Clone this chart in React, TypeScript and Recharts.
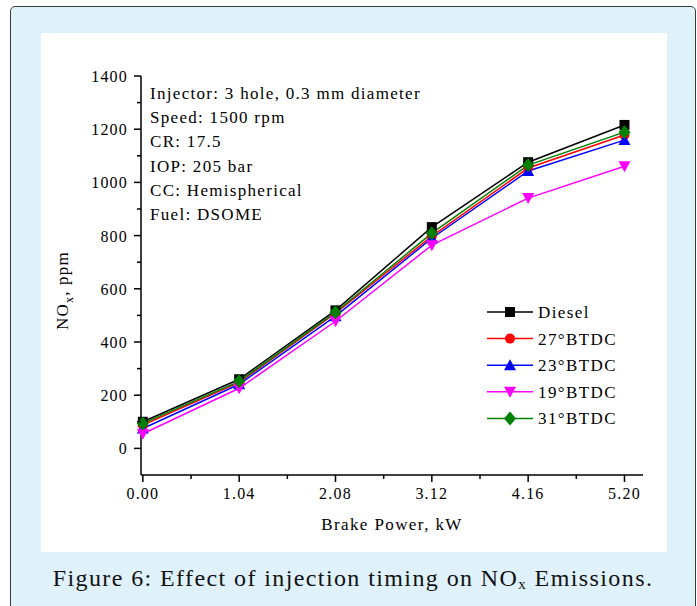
import { LineChart, Line, XAxis, YAxis, Legend } from "recharts";

const brakePower = [0, 1.04, 2.08, 3.12, 4.16, 5.2];
const diesel = [100, 260, 519, 832, 1076, 1216];
const btdc27 = [88, 248, 508, 798, 1054, 1178];
const btdc23 = [75, 241, 497, 790, 1043, 1159];
const btdc19 = [55, 226, 478, 764, 941, 1061];
const btdc31 = [94, 252, 512, 809, 1065, 1189];

const xTicks = [0, 0.52, 1.04, 1.56, 2.08, 2.6, 3.12, 3.64, 4.16, 4.68, 5.2];
const yTicks = [0, 100, 200, 300, 400, 500, 600, 700, 800, 900, 1000, 1100, 1200, 1300, 1400];

const notes = [
  "Injector: 3 hole, 0.3 mm diameter",
  "Speed: 1500 rpm",
  "CR: 17.5",
  "IOP: 205 bar",
  "CC: Hemispherical",
  "Fuel: DSOME",
];

type Shape = "square" | "circle" | "up" | "down" | "diamond";

const series: { key: string; name: string; color: string; shape: Shape }[] = [
  { key: "diesel", name: "Diesel", color: "#000000", shape: "square" },
  { key: "b27", name: "27°BTDC", color: "#ff0000", shape: "circle" },
  { key: "b23", name: "23°BTDC", color: "#0000ff", shape: "up" },
  { key: "b19", name: "19°BTDC", color: "#ff00ff", shape: "down" },
  { key: "b31", name: "31°BTDC", color: "#008000", shape: "diamond" },
];

const data = brakePower.map((bp, i) => ({
  bp,
  diesel: diesel[i],
  b27: btdc27[i],
  b23: btdc23[i],
  b19: btdc19[i],
  b31: btdc31[i],
}));

const FONT = "'Liberation Serif', 'Times New Roman', serif";

function marker(shape: Shape, cx: number, cy: number, color: string, key?: string) {
  if (shape === "square")
    return <rect key={key} x={cx - 5} y={cy - 5} width={10} height={10} fill={color} />;
  if (shape === "circle") return <circle key={key} cx={cx} cy={cy} r={5} fill={color} />;
  if (shape === "up")
    return <polygon key={key} points={`${cx},${cy - 6} ${cx - 6},${cy + 5} ${cx + 6},${cy + 5}`} fill={color} />;
  if (shape === "down")
    return <polygon key={key} points={`${cx},${cy + 6} ${cx - 6},${cy - 5} ${cx + 6},${cy - 5}`} fill={color} />;
  return <polygon key={key} points={`${cx},${cy - 7} ${cx + 6},${cy} ${cx},${cy + 7} ${cx - 6},${cy}`} fill={color} />;
}

function XTick(props: any) {
  const { x, y, payload } = props;
  const major = Math.round(payload.value / 0.52) % 2 === 0;
  return (
    <g>
      <line x1={x} x2={x} y1={y} y2={y + (major ? 7 : 4)} stroke="#000" strokeWidth={1.5} />
      {major && (
        <text x={x} y={y + 24} textAnchor="middle" fontFamily={FONT} fontSize={16} letterSpacing={1.2} fill="#000">
          {payload.value.toFixed(2)}
        </text>
      )}
    </g>
  );
}

function YTick(props: any) {
  const { x, y, payload } = props;
  const major = payload.value % 200 === 0;
  return (
    <g>
      <line x1={x - (major ? 7 : 4)} x2={x} y1={y} y2={y} stroke="#000" strokeWidth={1.5} />
      {major && (
        <text x={x - 13} y={y + 6} textAnchor="end" fontFamily={FONT} fontSize={16} letterSpacing={1.2} fill="#000">
          {payload.value}
        </text>
      )}
    </g>
  );
}

function YLabel(props: any) {
  const { viewBox } = props;
  const cx = viewBox.x + 27;
  const cy = viewBox.y + viewBox.height / 2 + 15;
  return (
    <text
      transform={`translate(${cx},${cy}) rotate(-90)`}
      textAnchor="middle"
      fontFamily={FONT}
      fontSize={17}
      letterSpacing={1.2}
      fill="#000"
    >
      NO<tspan fontSize={12} dy={5}>x</tspan>
      <tspan dy={-5}>, ppm</tspan>
    </text>
  );
}

function XLabel(props: any) {
  const { viewBox } = props;
  return (
    <text
      x={viewBox.x + viewBox.width / 2}
      y={viewBox.y + 55}
      textAnchor="middle"
      fontFamily={FONT}
      fontSize={17}
      letterSpacing={1.4}
      fill="#000"
    >
      Brake Power, kW
    </text>
  );
}

function LegendBox() {
  return (
    <svg width={170} height={140} style={{ overflow: "visible" }}>
      {series.map((s, i) => {
        const y = 12 + i * 26.6;
        return (
          <g key={s.key}>
            <line x1={0} x2={46} y1={y} y2={y} stroke={s.color} strokeWidth={1.5} />
            {marker(s.shape, 23, y, s.color)}
            <text x={51} y={y + 6} fontFamily={FONT} fontSize={17} letterSpacing={1.4} fill="#000">
              {s.name}
            </text>
          </g>
        );
      })}
    </svg>
  );
}

export default function App() {
  return (
    <div style={{ position: "absolute", left: 0, top: 0, width: 697, height: 606, overflow: "hidden" }}>
      <div
        style={{
          position: "absolute",
          left: 10,
          top: 6,
          width: 686,
          height: 660,
          border: "1px solid #3a3a3a",
          borderRadius: 5,
          background: "#dff1fb",
          boxSizing: "border-box",
        }}
      />
      <div style={{ position: "absolute", left: 41, top: 33, width: 626, height: 519, background: "#fff" }}>
        <LineChart width={626} height={519} data={data} margin={{ top: 43, right: 24, bottom: 47, left: 0 }}>
          <XAxis
            type="number"
            dataKey="bp"
            domain={[-0.02, 5.4]}
            ticks={xTicks}
            tick={<XTick />}
            tickSize={0}
            tickMargin={0}
            tickLine={false}
            height={30}
            interval={0}
            axisLine={{ stroke: "#000", strokeWidth: 1.5 }}
            label={<XLabel />}
          />
          <YAxis
            type="number"
            domain={[-100, 1400]}
            ticks={yTicks}
            tick={<YTick />}
            tickSize={0}
            tickMargin={0}
            tickLine={false}
            width={100}
            interval={0}
            axisLine={{ stroke: "#000", strokeWidth: 1.5 }}
            label={<YLabel />}
          />
          <Legend
            layout="vertical"
            align="center"
            verticalAlign="middle"
            content={() => <LegendBox />}
            wrapperStyle={{ position: "absolute", left: 446, top: 267, width: 170, height: 140 }}
          />
          {series.map((s) => (
            <Line
              key={s.key}
              type="linear"
              dataKey={s.key}
              name={s.name}
              stroke={s.color}
              strokeWidth={1.5}
              isAnimationActive={false}
              dot={(p: any) => marker(s.shape, p.cx, p.cy, s.color, `${s.key}-${p.index}`)}
              activeDot={false}
            />
          ))}
        </LineChart>
        <div
          style={{
            position: "absolute",
            left: 109,
            top: 49,
            fontFamily: FONT,
            fontSize: 17,
            letterSpacing: 1.3,
            lineHeight: "24.2px",
            color: "#000",
            whiteSpace: "nowrap",
          }}
        >
          {notes.map((n) => (
            <div key={n}>{n}</div>
          ))}
        </div>
      </div>
      <div
        style={{
          position: "absolute",
          left: 10,
          width: 686,
          top: 563,
          textAlign: "center",
          fontFamily: FONT,
          fontSize: 24,
          letterSpacing: 1.4,
          lineHeight: "30px",
          color: "#111",
        }}
      >
        Figure 6: Effect of injection timing on NO<sub style={{ fontSize: 15, verticalAlign: "-3px" }}>x</sub> Emissions.
      </div>
    </div>
  );
}
